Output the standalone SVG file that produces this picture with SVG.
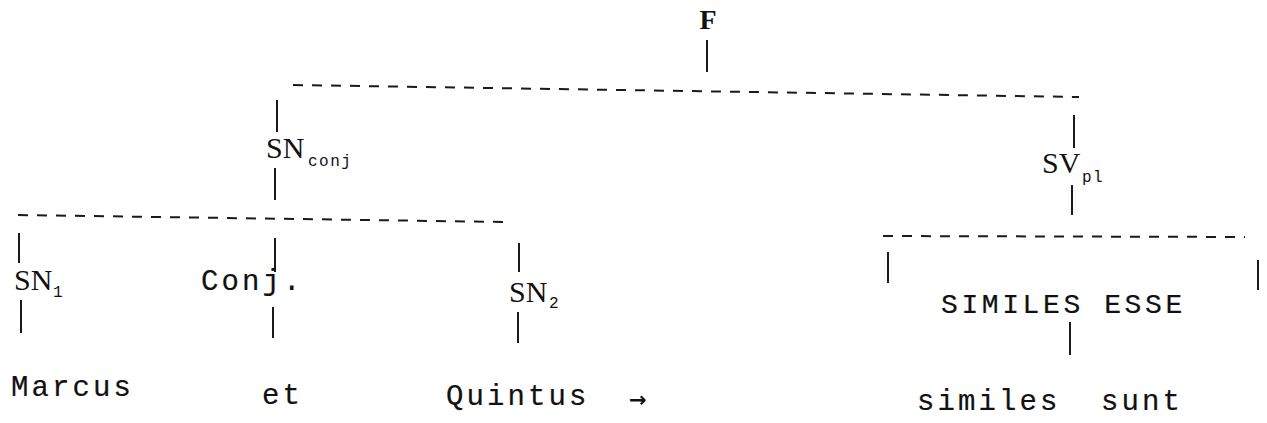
<svg xmlns="http://www.w3.org/2000/svg" width="1267" height="423" viewBox="0 0 1267 423">
<style>
  .tw { font-family: "Liberation Mono", "Courier New", monospace; font-size: 29px; letter-spacing: 3.1px; fill: #111; stroke: #111; stroke-width: 0.2; }
  .tw2 { font-family: "Liberation Mono", "Courier New", monospace; font-size: 28px; letter-spacing: 3.6px; fill: #111; stroke: #111; stroke-width: 0.2; }
  .cat { font-family: "Liberation Serif", "Times New Roman", serif; font-size: 30px; fill: #111; }
  .sub { font-family: "Liberation Mono", "Courier New", monospace; font-size: 16px; letter-spacing: 1.5px; fill: #111; }
  .root { font-family: "Liberation Serif", "Times New Roman", serif; font-size: 28px; font-weight: bold; fill: #111; }
  .arrow { font-family: "DejaVu Sans", sans-serif; font-size: 21px; font-weight: bold; fill: #111; }
  .ln { stroke: #1a1a1a; stroke-width: 2; fill: none; }
  .dash { stroke: #1a1a1a; stroke-width: 2; fill: none; stroke-dasharray: 10 9; }
</style>
<rect width="1267" height="423" fill="#fff"/>
<g id="connectors">
  <line class="ln" x1="707" y1="40" x2="707" y2="72"/>
  <line class="dash" x1="293" y1="85" x2="1079" y2="97"/>
  <line class="ln" x1="277" y1="100" x2="277" y2="132"/>
  <line class="ln" x1="275" y1="168" x2="275" y2="200"/>
  <line class="dash" x1="18" y1="215" x2="505" y2="222"/>
  <line class="ln" x1="19" y1="233" x2="19" y2="263"/>
  <line class="ln" x1="21" y1="300" x2="21" y2="333"/>
  <line class="ln" x1="275" y1="238" x2="275" y2="272"/>
  <line class="ln" x1="273" y1="307" x2="273" y2="338"/>
  <line class="ln" x1="519" y1="243" x2="519" y2="272"/>
  <line class="ln" x1="518" y1="312" x2="518" y2="343"/>
  <line class="ln" x1="1074" y1="115" x2="1074" y2="148"/>
  <line class="ln" x1="1072" y1="185" x2="1072" y2="215"/>
  <line class="dash" x1="883" y1="236" x2="1245" y2="237"/>
  <line class="ln" x1="888" y1="252" x2="888" y2="283"/>
  <line class="ln" x1="1258" y1="260" x2="1258" y2="290"/>
  <line class="ln" x1="1070" y1="322" x2="1070" y2="355"/>
</g>
<g id="node-F"><text class="root" x="708" y="29" text-anchor="middle">F</text></g>
<g id="node-SNconj"><text class="cat" x="266" y="158">SN</text><text class="sub" x="308" y="166">conj</text></g>
<g id="node-SVpl"><text class="cat" x="1042" y="173">SV</text><text class="sub" x="1082" y="182">pl</text></g>
<g id="node-SN1"><text class="cat" x="14" y="290">SN</text><text class="sub" x="53" y="297">1</text></g>
<g id="node-Conj"><text class="tw" x="201" y="290">Conj.</text></g>
<g id="node-SN2"><text class="cat" x="509" y="302">SN</text><text class="sub" x="549" y="308">2</text></g>
<g id="node-SIMILES-ESSE"><text class="tw2" x="941" y="313">SIMILES ESSE</text></g>
<g id="node-Marcus"><text class="tw" x="11" y="396">Marcus</text></g>
<g id="node-et"><text class="tw" x="262" y="404">et</text></g>
<g id="node-Quintus"><text class="tw" x="446" y="405">Quintus</text></g>
<g id="node-arrow"><text class="arrow" x="629" y="407">→</text></g>
<g id="node-similes-sunt"><text class="tw" x="917" y="410">similes</text><text class="tw" x="1101" y="410">sunt</text></g>
</svg>
